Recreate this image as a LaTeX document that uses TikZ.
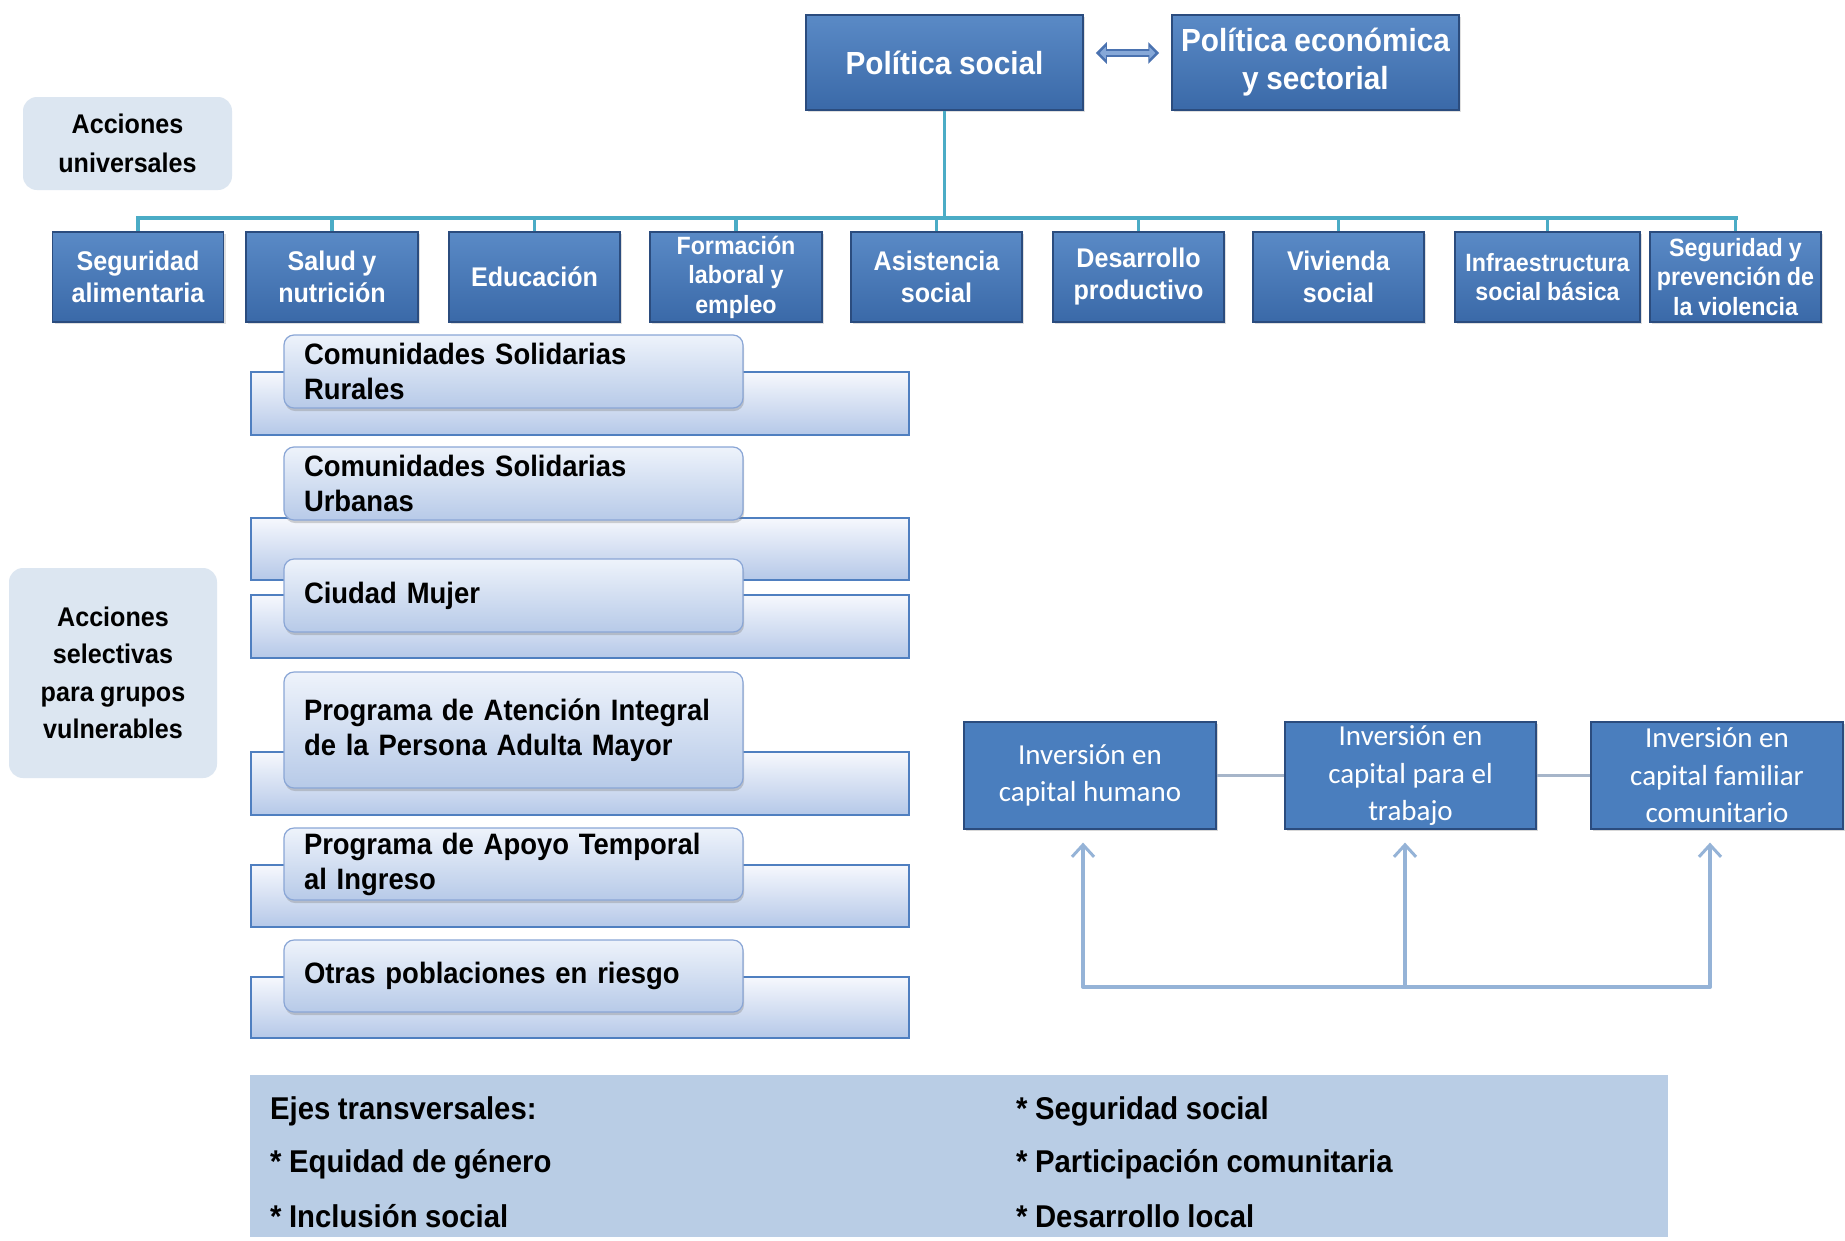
\documentclass[tikz,border=0pt]{standalone}
\usepackage{fontspec}
\setmainfont{Liberation Sans}[FakeStretch=0.93, WordSpace=0.92]
\newfontfamily\calfont{Carlito}
\usetikzlibrary{arrows.meta,shadows}
\definecolor{boxtop}{HTML}{5A8AC6}
\definecolor{boxbot}{HTML}{3A69A8}
\definecolor{boxborder}{HTML}{2B4C7E}
\definecolor{teal}{HTML}{4BACC6}
\definecolor{lightgrey}{HTML}{DCE6F1}
\definecolor{ejesfill}{HTML}{B9CDE5}
\definecolor{innertop}{HTML}{EEF3FB}
\definecolor{innerbot}{HTML}{B7CAE8}
\definecolor{innerborder}{HTML}{8AA6D6}
\definecolor{backtop}{HTML}{F6F8FD}
\definecolor{backbot}{HTML}{B5C8E8}
\definecolor{backborder}{HTML}{4F7FC0}
\definecolor{arrowblue}{HTML}{95B3D7}
\definecolor{linkgrey}{HTML}{A6B5C9}
\definecolor{dblouter}{HTML}{4A72B0}
\definecolor{dblinner}{HTML}{86A8D8}
\definecolor{invfill}{HTML}{4A7EBE}
\tikzset{
  topbox/.style={draw=boxborder, line width=1.5pt, top color=boxtop, bottom color=boxbot,
    text=white, font=\bfseries\fontsize{27}{32}\selectfont, align=center,
    minimum width=171pt, minimum height=90pt, inner sep=1pt,
    drop shadow={opacity=0.25, shadow xshift=2pt, shadow yshift=-2pt}},
  smalltop/.style={font=\bfseries\fontsize{25}{29.5}\selectfont},
  headbox/.style={topbox, font=\bfseries\fontsize{32}{38}\selectfont, minimum height=95pt},
  greybox/.style={fill=lightgrey, rounded corners=14pt, align=center, text=black,
    font=\bfseries\fontsize{27}{39}\selectfont, inner sep=2pt},
  backbox/.style={draw=backborder, line width=1.6pt, top color=backtop, bottom color=backbot,
    minimum width=658pt, inner sep=0pt},
  innerbox/.style={draw=innerborder, line width=1.2pt, top color=innertop, bottom color=innerbot,
    rounded corners=10pt, minimum width=459pt, text width=419pt, align=left, inner xsep=20pt,
    font=\bfseries\fontsize{29.5}{35}\selectfont, text=black,
    drop shadow={opacity=0.35, shadow xshift=1pt, shadow yshift=-3pt}},
  invbox/.style={draw=boxborder, line width=1.2pt, fill=invfill, text=white, align=center,
    font=\calfont\fontsize{29}{37.5}\selectfont, minimum width=252pt, minimum height=107pt, inner sep=1pt,
    drop shadow={opacity=0.3, shadow xshift=2pt, shadow yshift=-2pt}},
  bus/.style={draw=teal, line width=3.5pt},
  uparrow/.style={draw=arrowblue, line width=4pt, -{Straight Barb[length=12pt, width=22pt, line width=3pt]}},
  feedline/.style={draw=arrowblue, line width=4pt, line cap=round},
  linkline/.style={draw=linkgrey, line width=3.5pt},
  dblout/.style={draw=dblouter, line width=8.5pt, {Triangle[length=11pt, width=21pt]}-{Triangle[length=11pt, width=21pt]}},
  dblin/.style={draw=dblinner, line width=3.5pt, {Triangle[length=6pt, width=12pt]}-{Triangle[length=6pt, width=12pt]}},
  ejestext/.style={anchor=west, font=\bfseries\fontsize{31.5}{34}\selectfont, text=black, inner sep=0pt}
}
\begin{document}
\begin{tikzpicture}[x=1pt, y=-1pt]
\useasboundingbox (0,0) rectangle (1845,1240);
\fill[white] (0,0) rectangle (1845,1240);

% head nodes
\node[headbox, minimum width=277pt] (ps) at (944.5,62.5) {Política social};
\node[headbox, minimum width=287pt] (pe) at (1315.5,62.5) {\raisebox{-3pt}{Política económica}\\\raisebox{-3pt}{y sectorial}};
\draw[dblout, shorten <=12pt, shorten >=12pt] ([yshift=9.5pt]ps.east) -- ([yshift=9.5pt]pe.west);
\draw[dblin, shorten <=16pt, shorten >=16pt] ([yshift=9.5pt]ps.east) -- ([yshift=9.5pt]pe.west);

% grey side labels
\node[greybox, minimum width=209pt, minimum height=93pt] (au) at (127.5,143.5) {Acciones\\universales};
\node[greybox, minimum width=208pt, minimum height=210pt, font=\bfseries\fontsize{27}{37.5}\selectfont] (as) at (113,673) {Acciones\\selectivas\\para grupos\\vulnerables};

% universal action boxes
\node[topbox] (b1) at (138,277) {Seguridad\\alimentaria};
\node[topbox, minimum width=172pt] (b2) at (332,277) {Salud y\\nutrición};
\node[topbox] (b3) at (534.5,277) {Educación};
\node[topbox, minimum width=172pt, smalltop] (b4) at (736,277) {Formación\\laboral y\\empleo};
\node[topbox] (b5) at (936.5,277) {Asistencia\\social};
\node[topbox] (b6) at (1138.5,277) {Desarrollo\\productivo};
\node[topbox] (b7) at (1338.5,277) {Vivienda\\social};
\node[topbox, minimum width=185pt, smalltop] (b8) at (1547.5,277) {Infraestructura\\social básica};
\node[topbox, smalltop] (b9) at (1735.5,277) {Seguridad y\\prevención de\\la violencia};

% bus connectors
\coordinate (busL) at (138,218);
\coordinate (busR) at (1736,218);
\draw[bus] (ps.south) -- (ps.south |- busL);
\draw[bus, line cap=rect] (busL) -- (busR);
\foreach \b in {b1,b2,b3,b4,b5,b6,b7,b8,b9} {
  \draw[bus] (\b.north) -- (\b.north |- busL);
}

% selective programmes: back bars
\node[backbox, minimum height=63pt] (r1) at (580,403.5) {};
\node[backbox, minimum height=62pt] (r2) at (580,549) {};
\node[backbox, minimum height=63pt] (r3) at (580,626.5) {};
\node[backbox, minimum height=63pt] (r4) at (580,783.5) {};
\node[backbox, minimum height=62pt] (r5) at (580,896) {};
\node[backbox, minimum height=61pt] (r6) at (580,1007.5) {};
% selective programmes: front labels
\node[innerbox, minimum height=73pt] (p1) at (513.5,371.5) {Comunidades Solidarias\\Rurales};
\node[innerbox, minimum height=73pt] (p2) at (513.5,483.5) {Comunidades Solidarias\\Urbanas};
\node[innerbox, minimum height=73pt] (p3) at (513.5,595.5) {Ciudad Mujer};
\node[innerbox, minimum height=116pt] (p4) at (513.5,730) {Programa de Atención Integral\\de la Persona Adulta Mayor};
\node[innerbox, minimum height=72pt] (p5) at (513.5,864) {Programa de Apoyo Temporal\\al Ingreso};
\node[innerbox, minimum height=72pt] (p6) at (513.5,976) {Otras poblaciones en riesgo};

% investment boxes
\node[invbox] (i1) at (1090,775.5) {Inversión en\\capital humano};
\node[invbox, minimum width=251pt] (i2) at (1410.5,775.5) {Inversión en\\capital para el\\trabajo};
\node[invbox] (i3) at (1717,775.5) {Inversión en\\capital familiar\\comunitario};
\draw[linkline] (i1.east) -- (i2.west);
\draw[linkline] (i2.east) -- (i3.west);

\coordinate (f1) at (1083,987);
\coordinate (f2) at (1405,987);
\coordinate (f3) at (1710,987);
\draw[feedline] (f1) -- (f3);
\draw[uparrow, shorten >=13pt] (f1) -- (i1.south -| f1);
\draw[uparrow, shorten >=13pt] (f2) -- (i2.south -| f2);
\draw[uparrow, shorten >=13pt] (f3) -- (i3.south -| f3);

% transversal axes
\node[fill=ejesfill, minimum width=1418pt, minimum height=162pt, inner sep=0pt] (ejes) at (959,1156) {};
\node[ejestext] (e1) at (270,1111) {Ejes transversales:};
\node[ejestext] (e2) at (270,1164) {* Equidad de género};
\node[ejestext] (e3) at (270,1216) {* Inclusión social};
\node[ejestext] (e4) at (1016,1111) {* Seguridad social};
\node[ejestext] (e5) at (1016,1164) {* Participación comunitaria};
\node[ejestext] (e6) at (1016,1216) {* Desarrollo local};
\end{tikzpicture}
\end{document}
